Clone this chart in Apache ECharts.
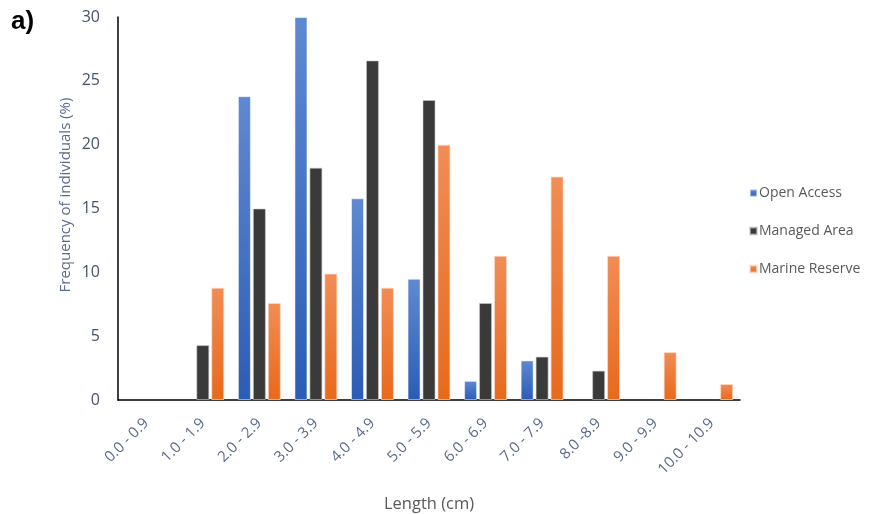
<!DOCTYPE html>
<html>
<head>
<meta charset="utf-8">
<script src="https://cdn.jsdelivr.net/npm/echarts@6/dist/echarts.min.js"></script>
<style>
html,body{margin:0;padding:0;background:#fff;}
#chart{width:872px;height:514px;}
</style>
</head>
<body>
<div id="chart"></div>
<script>
var categories = ['0.0 - 0.9','1.0 - 1.9','2.0 - 2.9','3.0 - 3.9','4.0 - 4.9','5.0 - 5.9','6.0 - 6.9','7.0 - 7.9','8.0 -8.9','9.0 - 9.9','10.0 - 10.9'];
var openAccess   = [0, 0, 23.8, 30.0, 15.8, 9.5, 1.5, 3.1, 0, 0, 0];
var managedArea  = [0, 4.3, 15.0, 18.2, 26.6, 23.5, 7.6, 3.4, 2.3, 0, 0];
var marineReserve= [0, 8.8, 7.6, 9.9, 8.8, 20.0, 11.3, 17.5, 11.3, 3.75, 1.25];
var yTicks = [0, 5, 10, 15, 20, 25, 30];

function noZero(arr){ return arr.map(function(v){ return v === 0 ? '-' : v; }); }

var chart = echarts.init(document.getElementById('chart'));
function grad(top, bottom){
  return new echarts.graphic.LinearGradient(0,0,0,1,[{offset:0,color:top},{offset:1,color:bottom}]);
}
var font = 'Open Sans, Lato, sans-serif';
chart.setOption({
  animation:false,
  backgroundColor:'#fff',
  graphic:[
    {type:'text',left:11,top:9,style:{text:'a)',font:'bold 26px Arial, Liberation Sans, sans-serif',fill:'#000'}},
    {type:'text',x:66,y:195,rotation:Math.PI/2,
     style:{text:'Frequency of individuals (%)',font:'15px '+font,fill:'#5a6a8a',align:'center',verticalAlign:'middle'}}
  ],
  grid:{left:118,top:17,right:132,bottom:114,containLabel:false,outerBoundsMode:'none'},
  legend:{
    orient:'vertical',left:744,top:181,itemGap:24,itemWidth:7,itemHeight:7,
    icon:'rect',
    textStyle:{color:'#595959',fontSize:14,fontFamily:font,padding:[0,0,0,-3]},
    data:['Open Access','Managed Area','Marine Reserve']
  },
  xAxis:{
    type:'category',data:categories,
    name:'Length (cm)',nameLocation:'middle',nameGap:96,
    nameTextStyle:{color:'#595959',fontSize:16.5,fontFamily:font},
    axisLine:{lineStyle:{color:'#000',width:1.5}},
    axisTick:{show:false},
    axisLabel:{rotate:45,color:'#5a6a8a',fontSize:15,fontFamily:font,interval:0,margin:21}
  },
  yAxis:{
    type:'value',min:yTicks[0],max:yTicks[yTicks.length-1],interval:5,
    axisLine:{show:true,lineStyle:{color:'#000',width:1.5}},
    axisTick:{show:false},splitLine:{show:false},
    axisLabel:{color:'#44546a',fontSize:16,fontFamily:font,margin:18}
  },
  series:[
    {name:'Open Access',type:'bar',data:noZero(openAccess),barWidth:13,barGap:'15%',
     itemStyle:{color:grad('#5f89d2','#2b5cb6'),borderColor:'rgba(255,255,255,0.5)',borderWidth:1}},
    {name:'Managed Area',type:'bar',data:noZero(managedArea),barWidth:13,barGap:'15%',
     itemStyle:{color:'#3a3a3a',borderColor:'rgba(200,200,200,0.6)',borderWidth:1}},
    {name:'Marine Reserve',type:'bar',data:noZero(marineReserve),barWidth:13,barGap:'15%',
     itemStyle:{color:grad('#f18d55','#e8691b'),borderColor:'rgba(255,220,200,0.7)',borderWidth:1}}
  ]
});
</script>
</body>
</html>
